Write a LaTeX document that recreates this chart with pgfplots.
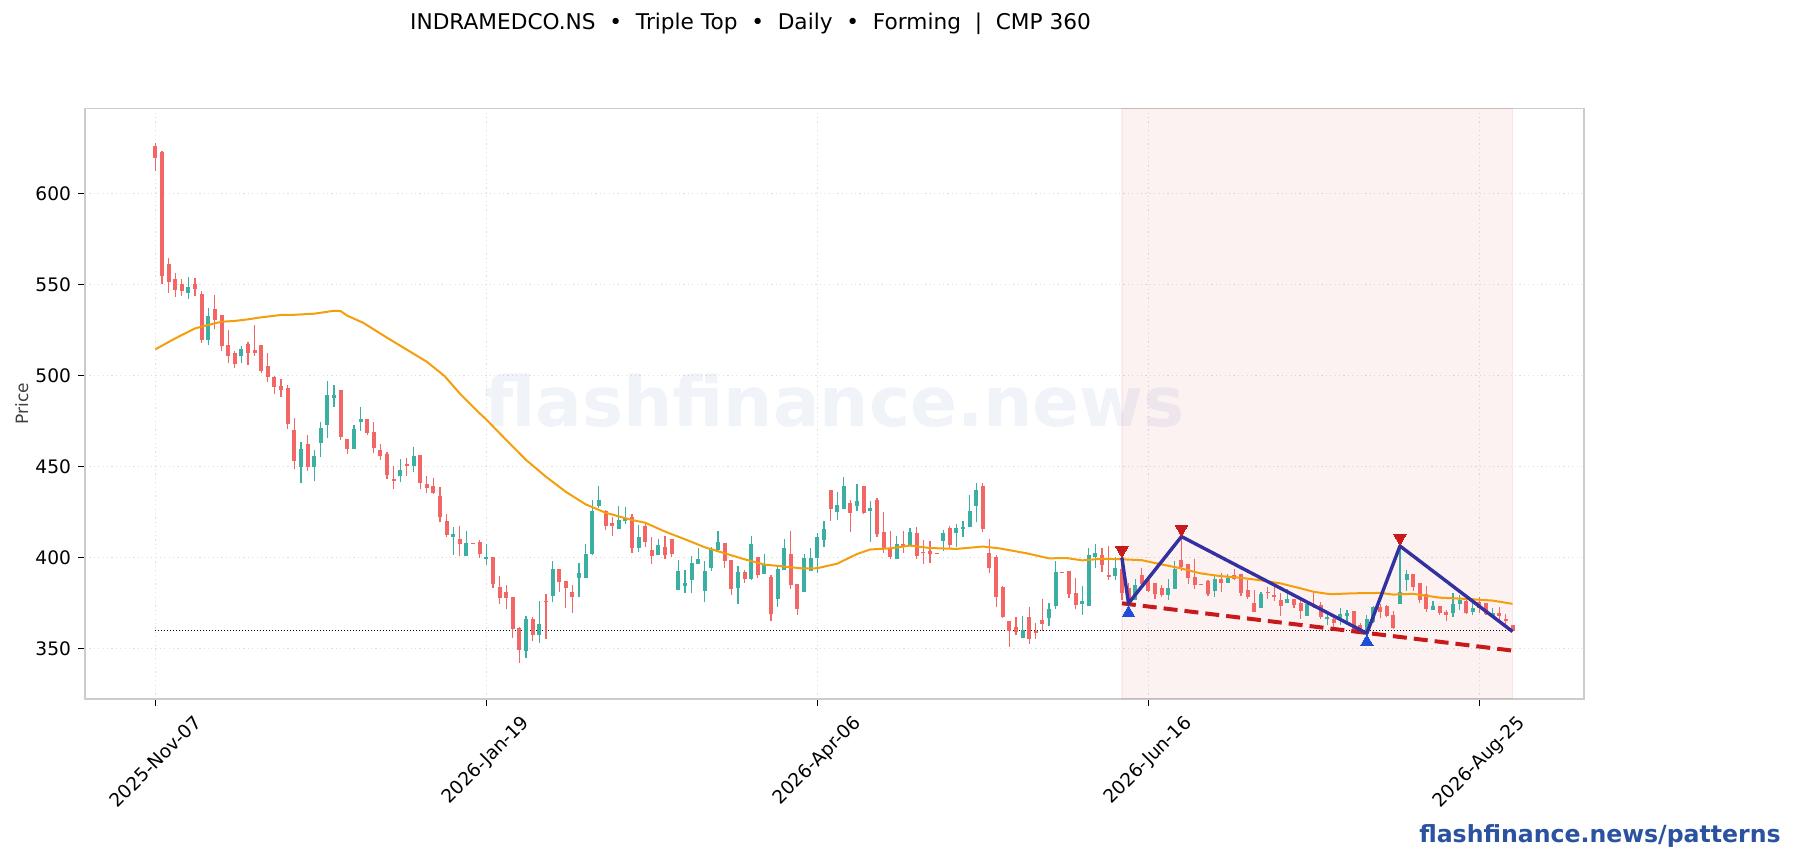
\documentclass[border=0pt]{standalone}
\usepackage{pgfplots}
\usepackage{pgfplotstable}
\usepackage{fontspec}
\pgfplotsset{compat=1.18}
\setmainfont{DejaVu Sans}
\definecolor{cred}{HTML}{F26666}
\definecolor{cteal}{HTML}{3CAFA3}
\definecolor{maor}{HTML}{F59E0B}
\definecolor{navy}{HTML}{3330A0}
\definecolor{dred}{HTML}{C81A1A}
\definecolor{ublue}{HTML}{1D4ED8}
\definecolor{brand}{HTML}{2A52A0}
\pgfplotstableread{
i O H L C
0 626 627.5 612.5 619.6
1 622.7 623.3 550.4 554.8
2 561.2 564.3 545 551.5
3 553 556 543.2 546.9
4 550.2 552.7 543.8 546.3
6 550.2 553.5 543.8 547.4
7 544.7 546.2 518 519.6
9 536.4 544 525.3 530.4
10 533.2 533.2 513.6 516.1
11 516.7 524.9 506.6 510.6
12 512.3 513.6 503.8 506.2
14 517.2 518.1 505.5 512.3
15 513.9 527.5 510.6 512.1
16 516.7 516.7 501.1 502.4
17 505.1 512.1 496.2 499.1
18 499.1 499.6 490 493.6
19 494.1 497.8 488.3 491.9
20 493 494.5 470.3 473.3
21 470 476.4 448.4 453
23 462.3 467 447.6 449.6
28 491.9 491.9 464.3 466.3
29 465 465 456.6 459.5
32 476 476 467.2 468.3
33 468.9 474.2 457.1 460
34 459 462.1 453.5 455.7
35 456.8 457.7 442.9 445.2
36 443 450 437.7 441.9
38 451.3 454.4 444.7 450.2
40 456.2 456.2 437.4 440.8
41 440.3 444.7 435.2 438.1
42 439.2 443.4 435 435.4
43 433.7 438.5 419.6 422.3
44 420 423.8 411.4 412.3
46 410.1 417.2 400.9 407.3
48 407.8 407.9 407.1 407.2
49 408.4 409.5 399.6 401.8
51 400.2 400.2 383.3 385.3
52 383.7 389.7 374.5 377.7
53 381 384.8 371.8 377.7
54 378.2 378.2 355.9 360.6
55 361.2 361.9 341.8 349.1
57 366.1 367 354.2 357.3
59 376 379.7 355 375.4
61 393.6 393.6 381.1 386.4
62 387 387 372.3 383.2
63 381 384.8 369.6 378.2
68 425.5 425.8 415 417.2
69 418.9 422 411.7 417.2
72 422.2 423.8 402.6 405.1
74 417.2 418.3 405.9 408.4
75 404 411 396.3 400.7
77 405.7 411.7 398.9 401.3
78 410.1 410.1 400.4 401.8
86 407.9 407.9 394 398
87 398.5 398.5 379.5 382.6
89 391.9 392.9 386.1 388.1
91 400.2 400.2 388.6 390.3
93 389.2 390.3 364.8 368.9
96 401.8 414.5 382.4 384.8
97 385.3 385.3 368 371.6
102 437 437 420.1 426.6
105 429.9 431.3 413.7 424.4
107 439.2 439.2 423.8 424.4
109 431.5 432.4 411 412.8
110 413.9 424.7 402.6 404.6
111 405.1 414.3 399.3 400.2
113 407.3 414.3 402.6 405.9
115 413.4 416.5 399.3 400.7
116 402.8 409.3 396.3 402.2
117 403.5 409 397 401.8
118 402.4 402.5 401.7 401.8
120 416.1 417.2 404.8 406.6
125 439.2 440.8 413.7 415.6
126 402.4 410.1 391.4 394.1
127 400.2 401.3 372.5 378.2
128 383.7 384.2 366.7 367.2
129 365 365 350.9 359.5
130 361.7 367 357.3 359
132 367.2 372.5 352.4 355.1
133 359.5 363.7 355 358.4
134 365.6 376.9 359.5 363.4
137 392 392.1 391.3 391.4
138 392.5 392.5 377.5 379.9
139 380.4 388.6 371.4 373.8
143 401.3 404.9 392.1 395.8
144 390.3 406 387.5 389.2
146 393.6 398 376.6 380.4
147 383.2 385.7 372.9 374.4
149 390.3 394 383 385.3
150 387.5 388.5 381 381.5
151 385.9 385.9 377.3 379.9
152 383.2 384.8 378.4 379.3
155 398.5 411 392.5 394.7
156 396.3 396.3 385.2 388.6
157 389.2 399.1 382.4 384.8
158 385.4 385.5 384.7 384.8
159 387 387.4 378.8 379.9
161 388.1 391.2 381.1 385.9
163 390.1 393.6 387.5 388.1
164 390.8 390.8 378.9 380.4
165 382 387.5 377.3 378.2
166 374.9 381.9 370 370
168 381.1 383.5 377.3 380.5
169 379.3 384.8 375.8 378.2
170 376.6 380.2 367.9 373.3
172 377.1 377.3 372.2 373.8
173 374.9 376.4 365.8 370.5
175 373 380.2 372 372.5
176 373.8 375.6 365.9 367.2
178 366.1 368.3 361.9 363.9
181 370.5 370.5 359.2 360.1
182 362.8 363.7 358.2 359.2
185 372.7 374.3 366.5 370
186 373.3 373.8 367 367.8
187 368.3 370.3 360.6 361.2
190 390.8 390.8 381.7 383.7
191 385.9 385.9 375.1 376.6
192 379.9 384.2 369.8 371.6
194 373.3 373.3 368.3 369.4
195 370 371 364.8 368.3
198 376 377.5 368.9 369.4
200 375.6 378 369.6 372
201 374.9 374.9 368.3 368.9
203 369.4 372.5 365.6 367.8
204 366.1 368.9 362.8 365
205 362.8 362.8 358.8 359.5
}\redcandles
\pgfplotstableread{
i O H L C
5 545.2 553.8 542.1 548.5
8 519.4 536.8 516.7 532.6
13 510.6 516.1 506.6 514.5
22 449.6 463.2 440.7 459.5
24 449.6 458.8 441.8 455.7
25 462.8 474.4 455 471
26 472.7 496.7 465.4 489.2
27 487.5 494.5 482.8 489.2
30 459.5 472.5 459.5 470.5
31 474.4 482.4 469.6 476
37 444.7 453.9 441.2 448
39 450.2 460.6 447 455.7
45 411.2 416.5 401.3 412.8
47 400.7 414.5 400.7 407.9
50 399.1 407.3 395.8 400.2
56 348.5 367.6 344.9 366.1
58 357.3 375.8 353.1 363.4
60 378.8 397.8 375.3 393.6
64 388.6 396.7 378 391.4
65 388.6 407.1 388.6 401.8
66 401.8 431.3 401.5 425.5
67 428.2 439 426.9 431.5
70 415.6 428.2 415.6 420.5
71 420 427.7 418.3 421.6
73 405.1 417.8 403.1 411.2
76 401.3 410.1 401.3 406.8
79 382 398.4 382 392.5
80 384.2 392.9 380.4 385.9
81 387.5 400.7 380.2 396.9
82 396.3 405.1 396.3 399.1
83 381.5 398 375.3 392.5
84 394.1 405.5 392.5 404.6
85 404 414.5 404 408.4
88 383.2 395 374.5 391.9
90 388.1 411.5 387.5 407.3
92 390.8 401.6 390.8 396.3
94 377.1 395.8 372.5 393.6
95 393 410.1 393 405.1
98 381 401.8 381 399.6
99 392.5 405.1 392.5 399.6
100 399.6 413.4 391.2 411.2
101 409.5 420 405.9 415.6
103 424.9 435.7 420.5 428.8
104 426.6 444 426.6 439.2
106 428.2 440.3 425.5 431
108 425.5 430.8 408.2 427.1
112 399.1 411.5 399.1 407.3
114 406.8 416.1 406.8 414
119 409 415 403.7 413.4
121 413.4 418.3 405.9 416.1
122 415.6 420 411 416.7
123 416.7 434.2 416.5 425.5
124 428.2 440.8 419.2 437
131 355.7 367.6 355.7 360.1
135 366.7 374.7 362.1 371.6
136 373.3 398 371.4 391.9
140 374.4 384.2 368.3 376
141 373.3 405.1 373.3 401.3
142 400.2 407.3 394.1 402.4
145 389.7 400.2 387.7 394.1
148 376.6 387.9 376.6 384.8
153 379.3 387.9 376.7 383.2
154 382.6 397.8 382.6 393.6
160 381.5 390.3 378.4 388.1
162 385.9 390.7 385.9 388.6
167 372.2 381 372.2 379.9
171 374.9 382.4 374.9 377.1
174 367.8 375.5 367.8 374.4
177 366.1 370.5 362.5 367.2
179 365.6 372.2 362.8 368.9
180 367.8 371 362.8 369.4
183 359.2 368.3 359.2 366.1
184 364.5 373.3 363.7 372.9
188 374.4 405.9 374.4 381
189 387.5 393 381.7 390.8
193 371 375.8 371 373.3
196 369.4 380.2 367 374.4
197 374.4 379.3 371 376.6
199 370 377.5 368.1 372.2
202 367.8 372 367.8 369.4
}\tealcandles
\pgfplotstableread{
i v
0 514.3
3 520.3
5 524
6 525.8
8 527.7
10 529.5
12 529.9
14 530.8
16 531.9
19 533.2
21 533.3
24 533.9
27 535.5
28 535.3
29 532.8
31.4 528.9
35 520.7
41 507.5
43.7 499.6
46 490
49 479.1
50 475.7
53 464.5
56 453.5
59 444.3
62 436
65 429.1
68 424.5
72 420.5
74 419
77 414.1
80 409.9
83 405.5
86 402.2
89 398.9
92 396
95 394.9
98 393.8
100 394
103 396.5
106 401.8
108 404.3
111 404.9
114 406.4
117 405.1
121 404.6
125 405.9
127.5 404.9
131.6 402.2
135 399.4
137.6 399.6
140 398.3
143 399.2
146 398.9
149 398.4
151.7 396.3
154.8 394
157.8 391.2
160.8 389.7
163.8 388.8
166.8 387.4
169.9 385.7
172.9 383
175 381
177.5 379.7
181 380.2
185 380.4
187 379.5
190 379.9
194 377.8
198 377.1
202 376.2
205 374.4
}\madata
\begin{document}
\begin{tikzpicture}
\useasboundingbox (0,0) rectangle (896.5pt,430pt);
\begin{axis}[
  at={(42.5pt,80.5pt)}, anchor=south west,
  scale only axis, width=749.5pt, height=295.25pt,
  xmin=-10.62, xmax=215.8, ymin=322.1, ymax=646.7,
  axis line style={draw=black!20,line width=.75pt},
  tick align=outside, major tick length=3.5pt,
  tick style={black,line width=.5pt},
  xtick={0,50,100,150,200},
  xticklabels={\rotatebox{45}{2025-Nov-07},\rotatebox{45}{2026-Jan-19},\rotatebox{45}{2026-Apr-06},\rotatebox{45}{2026-Jun-16},\rotatebox{45}{2026-Aug-25}},
  ytick={350,400,450,500,550,600},
  xtick pos=bottom, ytick pos=left,
  xticklabel style={anchor=north,font=\fontsize{9.3}{11}\selectfont,yshift=-.5pt},
  yticklabel style={font=\fontsize{9.3}{11}\selectfont,/pgf/number format/assume math mode=true},
  grid=major,
  grid style={black!12,line width=.5pt,dash pattern=on .6pt off 1.6pt},
  axis on top=false,
  ylabel={Price},
  ylabel style={at={(axis description cs:-0.0422,0.5)},anchor=center,font=\fontsize{8.5}{11}\selectfont,color=black!75},
  title={INDRAMEDCO.NS\ \ \textbullet\ \ Triple Top\ \ \textbullet\ \ Daily\ \ \textbullet\ \ Forming\ \ |\ \ CMP 360},
  title style={at={(axis description cs:0.444,1.1238)},anchor=center,font=\fontsize{10.83}{13}\selectfont},
]
\addplot[fill=dred,fill opacity=.06,draw=dred,draw opacity=.06,line width=.6pt] coordinates {(146,322.1)(146,646.7)(205,646.7)(205,322.1)} --cycle;
\node[text=brand,opacity=.07,font=\bfseries\fontsize{34.6}{40}\selectfont,yshift=1.7pt] at (rel axis cs:.5,.5) {flashfinance.news};
% dotted CMP level
\addplot[black,line width=.5pt,dash pattern=on .5pt off 1pt] coordinates {(0,360)(205,360)};
% wicks
\addplot[draw=none,mark=none,forget plot,error bars/.cd,y dir=plus,y explicit,error mark=none,error bar style={cred,line width=.6pt}]
  table[x=i,y=L,y error plus expr=\thisrow{H}-\thisrow{L}] {\redcandles};
\addplot[draw=none,mark=none,forget plot,error bars/.cd,y dir=plus,y explicit,error mark=none,error bar style={cteal,line width=.6pt}]
  table[x=i,y=L,y error plus expr=\thisrow{H}-\thisrow{L}] {\tealcandles};
% bodies
\addplot[draw=none,mark=none,forget plot,error bars/.cd,y dir=plus,y explicit,error mark=none,error bar style={cred,line width=2pt}]
  table[x=i,y=C,y error plus expr=\thisrow{O}-\thisrow{C}] {\redcandles};
\addplot[draw=none,mark=none,forget plot,error bars/.cd,y dir=plus,y explicit,error mark=none,error bar style={cteal,line width=2pt}]
  table[x=i,y=O,y error plus expr=\thisrow{C}-\thisrow{O}] {\tealcandles};
% moving average
\addplot[maor,line width=1pt,line join=round] table[x=i,y=v] {\madata};
% trend line
\addplot[dred,line width=2pt,dash pattern=on 7pt off 3.5pt] coordinates {(146,374.7)(205,348.7)};
% pattern
\addplot[navy,line width=1.7pt,line join=round] coordinates {(146,399.8)(147,374.7)(155,411.4)(183,358.2)(188,406.2)(205,359.2)};
\addplot[dred,only marks,mark=triangle*,mark size=3.57pt,mark options={rotate=180,fill=dred,draw=dred,line width=0pt}] coordinates {(146,403.9)(155,415.6)(188,410.7)};
\addplot[ublue,only marks,mark=triangle*,mark size=3.57pt,mark options={fill=ublue,draw=ublue,line width=0pt}] coordinates {(147,369.4)(183,353.5)};
\end{axis}
\node[text=brand,font=\bfseries\fontsize{11.8}{14}\selectfont] at (800pt,12pt) {flashfinance.news/patterns};
\end{tikzpicture}
\end{document}
